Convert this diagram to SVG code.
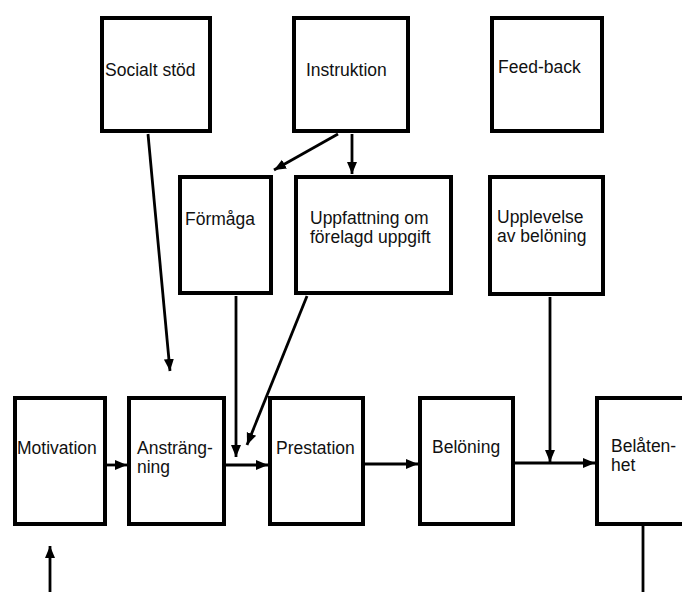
<svg xmlns="http://www.w3.org/2000/svg" width="682" height="592" viewBox="0 0 682 592">
<style>
.box{fill:#fff;stroke:#000;stroke-width:4}
.lbl{font-family:"Liberation Sans",Arial,sans-serif;font-size:17.5px;fill:#111}
.con{stroke:#000;stroke-width:2.8;fill:none;marker-end:url(#ah)}
.plain{stroke:#000;stroke-width:2.8;fill:none}
</style>
<defs>
<marker id="ah" markerUnits="userSpaceOnUse" markerWidth="13" markerHeight="13" viewBox="0 0 13 13" refX="12" refY="6.5" orient="auto">
<path d="M0,1.5 L12,6.5 L0,11.5 z" fill="#000"/>
</marker>
</defs>
<rect width="682" height="592" fill="#fff"/>
<g id="connectors">
<line class="con" x1="338" y1="134" x2="274" y2="170"/>
<line class="con" x1="352" y1="134" x2="352" y2="174"/>
<line class="con" x1="148" y1="134" x2="170" y2="371"/>
<line class="con" x1="236" y1="296" x2="236" y2="457"/>
<line class="con" x1="307" y1="296" x2="247" y2="445"/>
<line class="con" x1="550" y1="297" x2="550" y2="462"/>
<line class="con" x1="107" y1="465" x2="127" y2="465"/>
<line class="con" x1="226" y1="465" x2="268" y2="465"/>
<line class="con" x1="365" y1="464" x2="418" y2="464"/>
<line class="con" x1="515" y1="463" x2="595" y2="463"/>
<line class="plain" x1="643" y1="526" x2="643" y2="592"/>
<line class="con" x1="50" y1="592" x2="50" y2="546"/>
</g>
<g id="socialt-stod"><rect class="box" x="102" y="18" width="108" height="113"/><text class="lbl" x="105" y="76">Socialt stöd</text></g>
<g id="instruktion"><rect class="box" x="294" y="18" width="114" height="113"/><text class="lbl" x="306" y="76">Instruktion</text></g>
<g id="feed-back"><rect class="box" x="492" y="18" width="110" height="113"/><text class="lbl" x="498" y="73">Feed-back</text></g>
<g id="formaga"><rect class="box" x="180" y="177" width="91" height="116"/><text class="lbl" x="185" y="225">Förmåga</text></g>
<g id="uppfattning"><rect class="box" x="296" y="177" width="155" height="116"/><text class="lbl" x="310" y="224">Uppfattning om</text><text class="lbl" x="310" y="243">förelagd uppgift</text></g>
<g id="upplevelse"><rect class="box" x="490" y="177" width="113" height="117"/><text class="lbl" x="497" y="223">Upplevelse</text><text class="lbl" x="497" y="242">av belöning</text></g>
<g id="motivation"><rect class="box" x="15" y="398" width="90" height="126"/><text class="lbl" x="17" y="454">Motivation</text></g>
<g id="anstrangning"><rect class="box" x="129" y="398" width="95" height="126"/><text class="lbl" x="137" y="454">Ansträng-</text><text class="lbl" x="137" y="473">ning</text></g>
<g id="prestation"><rect class="box" x="270" y="398" width="93" height="126"/><text class="lbl" x="276" y="454">Prestation</text></g>
<g id="beloning"><rect class="box" x="420" y="398" width="93" height="126"/><text class="lbl" x="432" y="453">Belöning</text></g>
<g id="belatenhet"><rect class="box" x="597" y="398" width="100" height="126"/><text class="lbl" x="611" y="452">Belåten-</text><text class="lbl" x="611" y="471">het</text></g>
</svg>
